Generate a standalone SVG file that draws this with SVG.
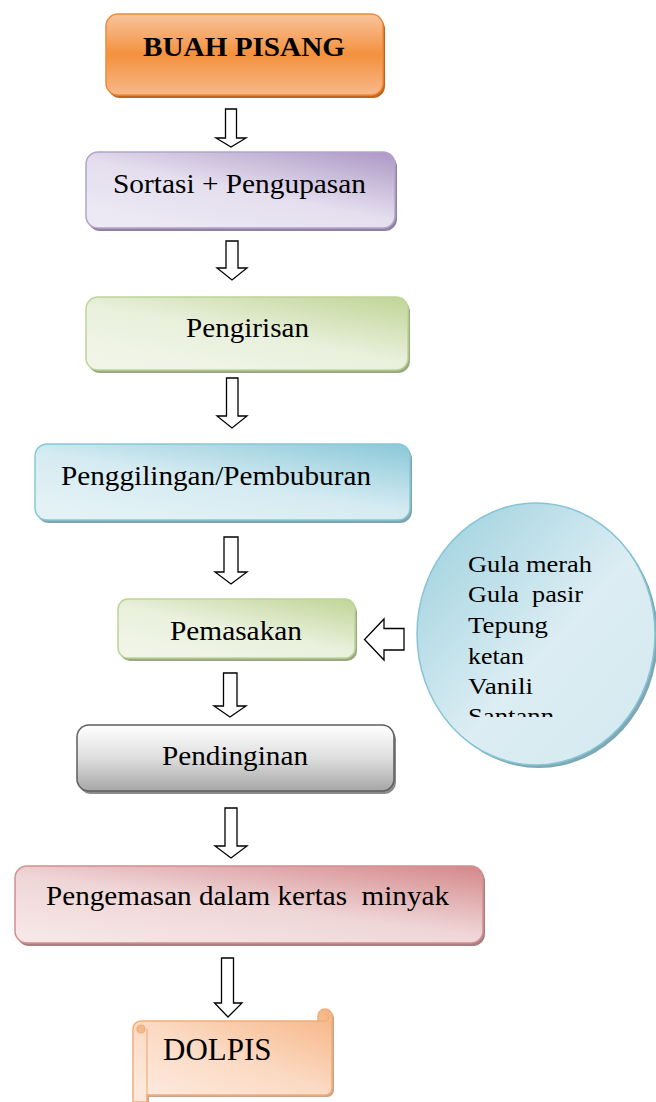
<svg xmlns="http://www.w3.org/2000/svg" width="656" height="1102" viewBox="0 0 656 1102">
<style>
  .t{font-family:"Liberation Serif","Times New Roman",serif;font-size:27px;fill:#000}
  .b{font-weight:bold}
  .c{font-size:24px}
  .arr{fill:#fff;stroke:#000;stroke-width:1.3;stroke-linejoin:miter}
  .bd{stroke-width:1.5}
</style>
<defs>
  <linearGradient id="gOr" x1="0" y1="0" x2="0" y2="1">
    <stop offset="0" stop-color="#f9c49c"/><stop offset="0.5" stop-color="#f3913e"/><stop offset="1" stop-color="#f8b88a"/>
  </linearGradient>
  <linearGradient id="gPu" x1="1" y1="0" x2="0.2" y2="1">
    <stop offset="0" stop-color="#ad97c5"/><stop offset="0.55" stop-color="#e4deee"/><stop offset="1" stop-color="#ede9f4"/>
  </linearGradient>
  <linearGradient id="gGr" x1="1" y1="0" x2="0.2" y2="1">
    <stop offset="0" stop-color="#c0d596"/><stop offset="0.55" stop-color="#e9f0dc"/><stop offset="1" stop-color="#f1f5e8"/>
  </linearGradient>
  <linearGradient id="gBl" x1="1" y1="0" x2="0.2" y2="1">
    <stop offset="0" stop-color="#8ac8d8"/><stop offset="0.55" stop-color="#d5ebf2"/><stop offset="1" stop-color="#e4f2f6"/>
  </linearGradient>
  <linearGradient id="gGy" x1="0" y1="0" x2="0" y2="1">
    <stop offset="0" stop-color="#ffffff"/><stop offset="0.5" stop-color="#dedede"/><stop offset="1" stop-color="#a6a6a6"/>
  </linearGradient>
  <linearGradient id="gPk" x1="1" y1="0" x2="0.2" y2="1">
    <stop offset="0" stop-color="#d4878a"/><stop offset="0.55" stop-color="#efd5d6"/><stop offset="1" stop-color="#f6e6e6"/>
  </linearGradient>
  <linearGradient id="gPe" x1="1" y1="0" x2="0.2" y2="1">
    <stop offset="0" stop-color="#f6b483"/><stop offset="0.55" stop-color="#fbd9c2"/><stop offset="1" stop-color="#fde9dc"/>
  </linearGradient>
  <linearGradient id="gCi" x1="0" y1="0" x2="1" y2="1">
    <stop offset="0" stop-color="#98cfdd"/><stop offset="0.55" stop-color="#dcedf3"/><stop offset="1" stop-color="#d3e9f0"/>
  </linearGradient>
  <clipPath id="clipC"><rect x="420" y="540" width="236" height="177"/></clipPath>
</defs>

<g id="connectors">
  <path class="arr" d="M225.5 109 H236.5 V138 H246 L231 147 L216 138 H225.5 Z"/>
  <path class="arr" d="M226 241 H238 V268 H247 L232 280 L217 268 H226 Z"/>
  <path class="arr" d="M226.5 378 H238 V416 H247 L232 428 L217 416 H226.5 Z"/>
  <path class="arr" d="M224 537 H238 V572 H247 L231 584 L215 572 H224 Z"/>
  <path class="arr" d="M223.5 673 H237 V706 H246 L230 717 L214 706 H223.5 Z"/>
  <path class="arr" d="M225 808 H237 V846 H247 L231 858 L215 846 H225 Z"/>
  <path class="arr" d="M221.5 958 H233.5 V1003 H242 L228 1017 L214.5 1003 H221.5 Z"/>
  <path class="arr" d="M404 628.5 V650 H384 V660 L364.5 639.5 L384 619 V628.5 Z"/>
</g>

<g id="n1">
  <rect x="108" y="17" width="277" height="81" rx="12" fill="#c4631c"/>
  <rect x="106" y="14" width="277" height="81" rx="12" fill="url(#gOr)" stroke="#ec8a3c" class="bd"/>
  <text class="t b" x="143" y="55.5" textLength="202" lengthAdjust="spacingAndGlyphs">BUAH PISANG</text>
</g>

<g id="n2">
  <rect x="88" y="155" width="309" height="76" rx="12" fill="#8e82a0"/>
  <rect x="86" y="152" width="309" height="76" rx="12" fill="url(#gPu)" stroke="#b3a3cc" class="bd"/>
  <text class="t" x="113" y="193" textLength="253" lengthAdjust="spacingAndGlyphs">Sortasi + Pengupasan</text>
</g>

<g id="n3">
  <rect x="88" y="300" width="322" height="73" rx="12" fill="#9aa883"/>
  <rect x="86" y="297" width="322" height="73" rx="12" fill="url(#gGr)" stroke="#bed396" class="bd"/>
  <text class="t" x="186" y="337" textLength="123" lengthAdjust="spacingAndGlyphs">Pengirisan</text>
</g>

<g id="n4">
  <rect x="37" y="447" width="375" height="76" rx="12" fill="#7ea4ae"/>
  <rect x="35" y="444" width="375" height="76" rx="12" fill="url(#gBl)" stroke="#86c7d7" class="bd"/>
  <text class="t" x="61" y="485" textLength="310" lengthAdjust="spacingAndGlyphs">Penggilingan/Pembuburan</text>
</g>

<g id="n5">
  <rect x="120" y="602" width="237" height="59" rx="10" fill="#9aa883"/>
  <rect x="118" y="599" width="237" height="59" rx="10" fill="url(#gGr)" stroke="#bed396" class="bd"/>
  <text class="t" x="170" y="640" textLength="132" lengthAdjust="spacingAndGlyphs">Pemasakan</text>
</g>

<g id="n6">
  <rect x="79" y="728" width="317" height="66" rx="12" fill="#8a8a8a"/>
  <rect x="77" y="725" width="317" height="66" rx="12" fill="url(#gGy)" stroke="#5e5e5e" class="bd"/>
  <text class="t" x="162" y="765" textLength="146" lengthAdjust="spacingAndGlyphs">Pendinginan</text>
</g>

<g id="n7">
  <rect x="17" y="869" width="468" height="77" rx="12" fill="#a98082"/>
  <rect x="15" y="866" width="468" height="77" rx="12" fill="url(#gPk)" stroke="#d28e90" class="bd"/>
  <text class="t" x="46" y="905" textLength="403" lengthAdjust="spacingAndGlyphs" xml:space="preserve">Pengemasan dalam kertas  minyak</text>
</g>

<g id="n8">
  <path d="M135 1031 a8 8 0 0 1 8 -8 H320 V1018 a7 7 0 0 1 14 0 V1090 a7 7 0 0 1 -7 7 H149 V1104 H135 Z" fill="#c9a38a"/>
  <path d="M133 1029 a8 8 0 0 1 8 -8 H318 V1016 a7 7 0 0 1 14 0 V1088 a7 7 0 0 1 -7 7 H147 V1102 H133 Z" fill="url(#gPe)" stroke="#f2ad7a" class="bd"/>
  <path d="M318 1021 H325 a3.5 3.5 0 0 0 0 -7" fill="none" stroke="#f2ad7a" stroke-width="1.5"/>
  <circle cx="141" cy="1029" r="4" fill="#f4b98c" stroke="#f2ad7a" stroke-width="1.2"/>
  <path d="M147 1029 V1095" fill="none" stroke="#f2ad7a" stroke-width="1.2"/>
  <text class="t" style="font-size:31px" x="163" y="1060">DOLPIS</text>
</g>

<g id="n9">
  <ellipse cx="539" cy="637" rx="119" ry="131" fill="#7fa8b4"/>
  <ellipse cx="536" cy="634" rx="119" ry="131" fill="url(#gCi)" stroke="#86c5d6" class="bd"/>
  <g clip-path="url(#clipC)">
    <text class="t c" x="468" y="572" textLength="124" lengthAdjust="spacingAndGlyphs">Gula merah</text>
    <text class="t c" x="468" y="602" textLength="115" lengthAdjust="spacingAndGlyphs" xml:space="preserve">Gula  pasir</text>
    <text class="t c" x="468" y="633" textLength="80" lengthAdjust="spacingAndGlyphs">Tepung</text>
    <text class="t c" x="468" y="664" textLength="56" lengthAdjust="spacingAndGlyphs">ketan</text>
    <text class="t c" x="468" y="694" textLength="65" lengthAdjust="spacingAndGlyphs">Vanili</text>
    <text class="t c" x="468" y="724" textLength="86" lengthAdjust="spacingAndGlyphs">Santann</text>
  </g>
</g>
</svg>
